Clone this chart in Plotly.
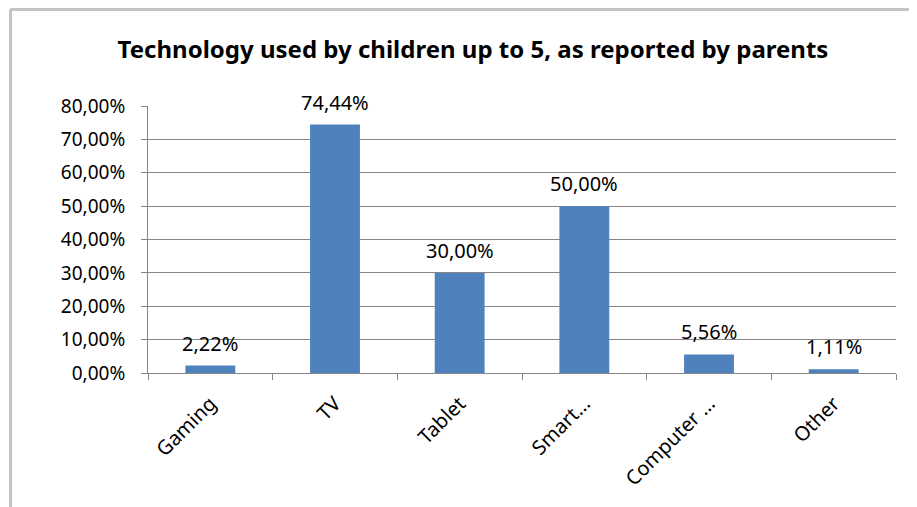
import plotly.graph_objects as go

categories = ["Gaming", "TV", "Tablet", "Smart…", "Computer …", "Other"]
values = [0.0222, 0.7444, 0.30, 0.50, 0.0556, 0.0111]
value_labels = ["2,22%", "74,44%", "30,00%", "50,00%", "5,56%", "1,11%"]
y_ticks = [0, 0.1, 0.2, 0.3, 0.4, 0.5, 0.6, 0.7, 0.8]

OFF = 8  # page body margin
W, H = 917 - OFF, 507 - OFF
ml, mr, mt, mb = 148 - OFF, 21, 106 - OFF, 134
pw, ph = W - ml - mr, H - mt - mb

fig = go.Figure()
fig.add_trace(go.Bar(
    x=categories, y=values,
    marker=dict(color="#4F81BD", line=dict(width=0)),
    width=0.4,
    hoverinfo="skip",
))

font_main = "Noto Sans, Open Sans, DejaVu Sans, sans-serif"

for c, v, t in zip(categories, values, value_labels):
    fig.add_annotation(x=c, y=v, text=t, showarrow=False, xref="x", yref="y",
                       yanchor="bottom", yshift=7,
                       font=dict(size=20, color="#000000", family=font_main))

# outer chart border (page coords -> paper coords)
def px_x(p):
    return (p - OFF - ml) / pw

def px_y(p):
    return (H - mb - (p - OFF)) / ph

fig.add_shape(type="line", xref="paper", yref="paper",
              x0=px_x(10), x1=px_x(930), y0=px_y(9.5), y1=px_y(9.5),
              line=dict(color="#C4C4C4", width=3))
fig.add_shape(type="line", xref="paper", yref="paper",
              x0=px_x(10.5), x1=px_x(10.5), y0=px_y(9.5), y1=px_y(520),
              line=dict(color="#C4C4C4", width=3))

fig.update_layout(
    width=W, height=H,
    margin=dict(l=ml, r=mr, t=mt, b=mb),
    paper_bgcolor="white", plot_bgcolor="white",
    separators=", ",
    showlegend=False,
    title=dict(text="<b>Technology used by children up to 5, as reported by parents</b>",
               x=(473 - OFF) / W, xanchor="center", y=1 - (50 - OFF) / H, yanchor="middle",
               font=dict(size=24, color="#000000", family=font_main)),
    bargap=0.6,
    xaxis=dict(
        type="category",
        showline=True, linecolor="#868686", linewidth=1,
        ticks="outside", ticklen=6, tickcolor="#868686",
        tickson="boundaries",
        tickangle=-45,
        ticklabelstandoff=10,
        tickfont=dict(size=20, color="#000000", family=font_main),
        showgrid=False,
    ),
    yaxis=dict(
        range=[0, 0.8],
        tickvals=y_ticks,
        tickformat=".2%",
        showline=True, linecolor="#868686", linewidth=1,
        ticks="outside", ticklen=6, tickcolor="#868686",
        ticklabelstandoff=12,
        showgrid=True, gridcolor="#868686", gridwidth=1,
        zeroline=False,
        tickfont=dict(size=19, color="#000000", family=font_main),
    ),
)

fig.write_html("out.html")
